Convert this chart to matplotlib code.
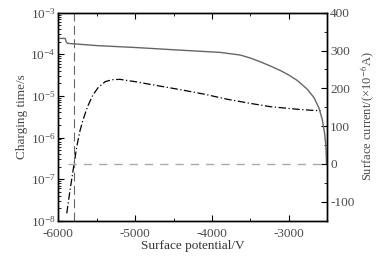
import matplotlib
matplotlib.use("Agg")
import matplotlib.pyplot as plt
from matplotlib.ticker import MultipleLocator, LogLocator, NullFormatter

plt.rcParams['font.family'] = ['Liberation Serif', 'DejaVu Serif']
plt.rcParams['mathtext.fontset'] = 'stix'
plt.rcParams['axes.unicode_minus'] = False

# Charging time (left, log axis) — dash-dot curve
time_x = [-5890, -5850, -5800, -5760, -5720, -5680, -5620, -5550, -5480, -5390, -5300, -5200,
          -5000, -4700, -4400, -4100, -3800, -3500, -3240, -2900, -2700, -2588]
time_y = [1.5e-8, 5e-8, 2.0e-7, 6e-7, 1.4e-6, 2.6e-6, 5.5e-6, 1.05e-5, 1.6e-5, 2.2e-5, 2.45e-5, 2.5e-5,
          2.2e-5, 1.75e-5, 1.4e-5, 1.1e-5, 8.3e-6, 6.6e-6, 5.5e-6, 4.8e-6, 4.5e-6, 4.4e-6]

# Surface current (right axis) — solid curve
cur_x = [-5990, -5910, -5895, -5880, -5500, -5000, -4500, -4150, -3892, -3631, -3500, -3370,
         -3240, -3110, -3000, -2892, -2762, -2675, -2610, -2566, -2536, -2518, -2510]
cur_y = [332, 332, 322, 319, 313, 308, 302, 298, 295, 288, 280, 270,
         259, 247, 235, 221, 198, 176, 149, 118, 82, 46, 2]

# Reference lines
vline_x = -5800
zero_x = [-5870, -2515]
zero_y = [0, 0]

fig = plt.figure(figsize=(3.85, 2.57), dpi=100)
ax = fig.add_axes([58.3/385, 1-220.7/257, (327.3-58.3)/385, (220.7-12.7)/257])
ax2 = ax.twinx()

label_color = '#4a4a4a'

ax.set_yscale('log')
ax.set_xlim(-6000, -2500)
ax.set_ylim(1e-8, 1e-3)
ax.plot(time_x, time_y, color='black', lw=0.9, linestyle=(0, (6, 2, 1, 2)))
ax.axvline(vline_x, color='#666666', lw=0.8, linestyle=(0, (8, 4)))

ax2.set_ylim(-150, 400)
ax2.plot(cur_x, cur_y, color='#666666', lw=1.0)
ax2.plot(zero_x, zero_y, color='#aaaaaa', lw=1.0, linestyle=(0, (6, 5)))

ax.xaxis.set_major_locator(MultipleLocator(1000))
ax.xaxis.set_minor_locator(MultipleLocator(500))
ax.yaxis.set_major_locator(LogLocator(base=10, numticks=10))
ax.yaxis.set_minor_locator(LogLocator(base=10, subs=range(2, 10), numticks=20))
ax.yaxis.set_minor_formatter(NullFormatter())
ax2.yaxis.set_major_locator(MultipleLocator(100))
ax2.yaxis.set_minor_locator(MultipleLocator(50))

ax.tick_params(axis='both', which='both', direction='in', top=True, labelsize=9.5,
               labelcolor=label_color)
ax.tick_params(axis='x', pad=5)
ax.tick_params(axis='y', pad=2)
ax.tick_params(which='major', length=4, width=0.8)
ax.tick_params(which='minor', length=2, width=0.6)
ax.tick_params(axis='y', which='both', right=False)
ax2.tick_params(axis='y', which='both', direction='in', labelsize=9.5, labelcolor=label_color, pad=2)
ax2.tick_params(which='major', length=4, width=0.8)
ax2.tick_params(which='minor', length=2, width=0.6)

for a in (ax, ax2):
    for s in a.spines.values():
        s.set_linewidth(1.0)
        s.set_color('black')

ax.set_xlabel('Surface potential/V', fontsize=9.5, color='#333333', labelpad=0)
ax.set_ylabel('Charging time/s', fontsize=9.5, color=label_color, labelpad=2)
ax2.set_ylabel('Surface current/(×10$^{-6}$A)', fontsize=9, color=label_color, labelpad=3)

fig.savefig('out.png', dpi=100)
